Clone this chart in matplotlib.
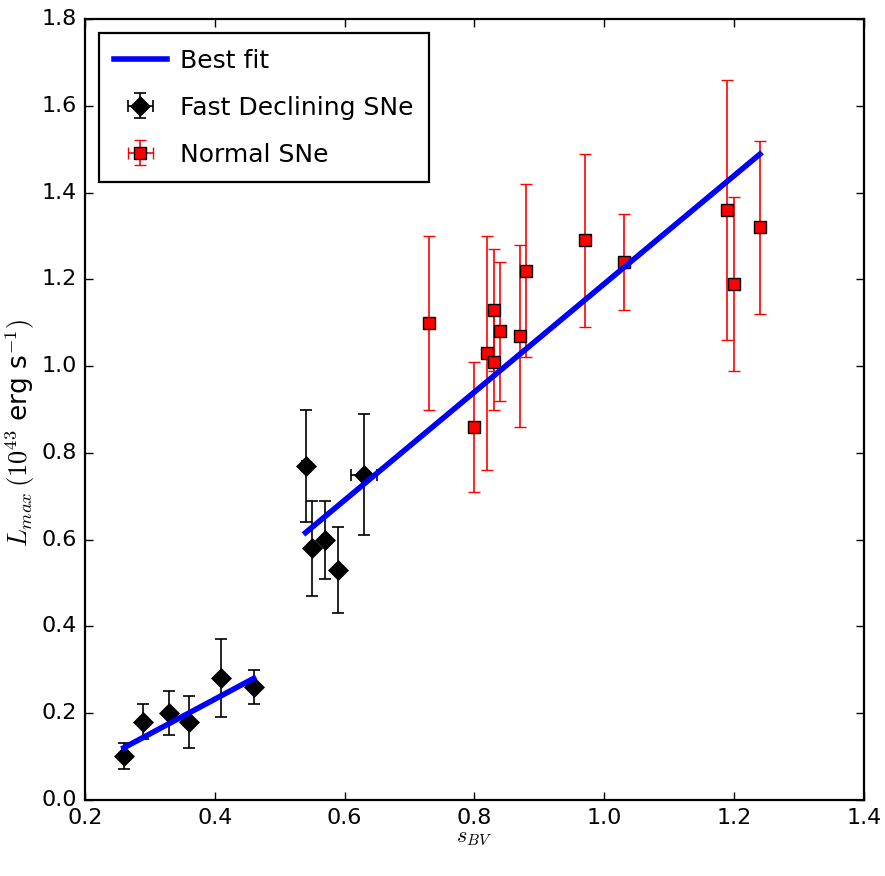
import matplotlib
matplotlib.use("Agg")
import matplotlib.pyplot as plt

# Fast declining SNe
fast_s = [0.26, 0.29, 0.33, 0.36, 0.41, 0.46, 0.54, 0.55, 0.57, 0.59, 0.63]
fast_serr = [0.005, 0.005, 0.005, 0.005, 0.005, 0.005, 0.005, 0.005, 0.005, 0.005, 0.02]
fast_L = [0.10, 0.18, 0.20, 0.18, 0.28, 0.26, 0.77, 0.58, 0.60, 0.53, 0.75]
fast_Lerr = [0.03, 0.04, 0.05, 0.06, 0.09, 0.04, 0.13, 0.11, 0.09, 0.10, 0.14]

# Normal SNe
normal_s = [0.73, 0.80, 0.82, 0.83, 0.83, 0.84, 0.87, 0.88, 0.97, 1.03, 1.19, 1.20, 1.24]
normal_serr = [0.004] * 13
normal_L = [1.10, 0.86, 1.03, 1.13, 1.01, 1.08, 1.07, 1.22, 1.29, 1.24, 1.36, 1.19, 1.32]
normal_Lerr = [0.20, 0.15, 0.27, 0.14, 0.11, 0.16, 0.21, 0.20, 0.20, 0.11, 0.30, 0.20, 0.20]

# Best fit segments
fit1_s = [0.26, 0.46]
fit1_L = [0.12, 0.28]
fit2_s = [0.54, 1.24]
fit2_L = [0.616, 1.489]

plt.style.use('classic')
plt.rcParams['font.family'] = ['DejaVu Sans']
plt.rcParams['mathtext.fontset'] = 'cm'

fig = plt.figure(figsize=(8.85, 8.76), dpi=100, facecolor='white')
ax = fig.add_axes([0.096, 0.087, 0.880, 0.891])

ax.plot(fit1_s, fit1_L, color='b', lw=4, zorder=4, label='Best fit')
ax.plot(fit2_s, fit2_L, color='b', lw=4, zorder=4)

ax.errorbar(fast_s, fast_L, xerr=fast_serr, yerr=fast_Lerr, fmt='D', color='k',
            ms=10, mec='k', mfc='k', ecolor='k', capsize=4, elinewidth=1.2,
            capthick=1.2, zorder=3, label='Fast Declining SNe')
ax.errorbar(normal_s, normal_L, xerr=normal_serr, yerr=normal_Lerr, fmt='s',
            color='r', ms=8.5, mfc='r', mec='k', mew=1.0, ecolor='r', capsize=4,
            elinewidth=1.2, capthick=1.2, zorder=3, label='Normal SNe')

ax.set_xlim(0.2, 1.4)
ax.set_ylim(0.0, 1.8)
ax.set_xticks([0.2, 0.4, 0.6, 0.8, 1.0, 1.2, 1.4])
ax.set_yticks([0.0, 0.2, 0.4, 0.6, 0.8, 1.0, 1.2, 1.4, 1.6, 1.8])
ax.tick_params(labelsize=16, direction='in', length=6, width=1, top=True, right=True, pad=6)
for sp in ax.spines.values():
    sp.set_linewidth(1.6)

ax.set_xlabel(r'$s_{BV}$', fontsize=16, labelpad=0)
ax.set_ylabel(r'$L_{max}\,(10^{43}$ erg s$^{-1})$', fontsize=19)
ax.yaxis.set_label_coords(-0.062, 0.47)

leg = ax.legend(loc='upper left', numpoints=1, fontsize=18, frameon=True,
                fancybox=False, borderaxespad=0.55, handlelength=2.1,
                handletextpad=0.55, labelspacing=0.92, borderpad=0.62)
leg.get_frame().set_linewidth(1.6)
leg.get_frame().set_edgecolor('k')

fig.savefig('out.png', dpi=100, facecolor='white')
